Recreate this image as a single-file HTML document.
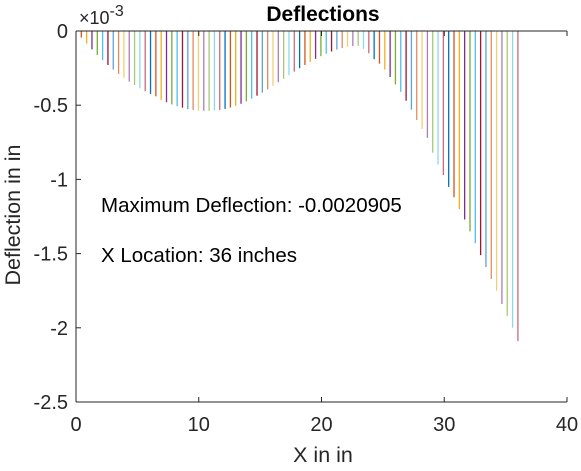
<!DOCTYPE html>
<html><head><meta charset="utf-8"><style>
body{margin:0;background:#fff;font-family:"Liberation Sans",sans-serif}
</style></head><body>
<svg width="581" height="466" xmlns="http://www.w3.org/2000/svg" font-family="Liberation Sans, sans-serif">
<rect width="581" height="466" fill="#fff"/>
<g id="stems"></g>
<g id="axes"></g>
<text x="323" y="21" text-anchor="middle" font-size="21" font-weight="bold">Deflections</text>
<text x="79" y="24" font-size="18" fill="#262626">×10<tspan dy="-8" font-size="16">-3</tspan></text>
<text x="101" y="212" font-size="20.5">Maximum Deflection: -0.0020905</text>
<text x="101" y="262" font-size="20.5">X Location: 36 inches</text>
<text x="323" y="462" text-anchor="middle" font-size="21.5" fill="#262626">X in in</text>
<text x="0" y="0" transform="translate(20,215) rotate(-90)" text-anchor="middle" font-size="21.5" fill="#262626">Deflection in in</text>
</svg>
<script>
const deflections = [0,-0.044,-0.085,-0.124,-0.161,-0.196,-0.229,-0.26,-0.289,-0.316,-0.341,-0.364,-0.386,-0.406,-0.424,-0.44,-0.465,-0.48,-0.495,-0.507,-0.517,-0.526,-0.532,-0.536,-0.538,-0.538,-0.536,-0.532,-0.525,-0.516,-0.504,-0.49,-0.474,-0.456,-0.436,-0.415,-0.393,-0.37,-0.346,-0.322,-0.298,-0.274,-0.251,-0.229,-0.208,-0.188,-0.17,-0.153,-0.138,-0.125,-0.115,-0.107,-0.102,-0.1,-0.12,-0.15,-0.19,-0.22,-0.26,-0.31,-0.36,-0.41,-0.47,-0.53,-0.6,-0.66,-0.72,-0.82,-0.9,-0.97,-1.05,-1.12,-1.2,-1.27,-1.35,-1.43,-1.51,-1.59,-1.67,-1.75,-1.84,-1.92,-2.0,-2.09];
const xMax = 36;
const xTicks = [0,10,20,30,40];
const yTicks = [0,-0.5,-1,-1.5,-2,-2.5];
const yTickLabels = ["0","-0.5","-1","-1.5","-2","-2.5"];
const colors = ['#0072BD','#D95319','#EDB120','#7E2F8E','#77AC30','#4DBEEE','#A2142F','#5aa5d6','#e38a5e','#f3cf70','#b07cb8','#a3cc70','#8fd6f3','#c96a7d'];
const L=76,R=567,T=31,B=402;
const xs=v=>L+(v-0)/(40-0)*(R-L);
const ys=v=>T+(0-v)/(2.5)*(B-T);
const NS='http://www.w3.org/2000/svg';
const stems=document.getElementById('stems');
deflections.forEach((d,i)=>{
  const x=xs(xMax*i/(deflections.length-1));
  const l=document.createElementNS(NS,'line');
  
  
  l.setAttribute('x1',x);l.setAttribute('x2',x);
  l.setAttribute('y1',ys(0));l.setAttribute('y2',ys(d));
  l.setAttribute('stroke',colors[i%colors.length]);l.setAttribute('stroke-width','1.3');
  stems.appendChild(l);
});
const ax=document.getElementById('axes');
function mk(tag,attrs,txt){const e=document.createElementNS(NS,tag);for(const k in attrs)e.setAttribute(k,attrs[k]);if(txt!==undefined)e.textContent=txt;ax.appendChild(e);return e;}
const la=mk('line',{x1:L,x2:L,y1:T,y2:B,stroke:'#262626'});


const ba=mk('line',{x1:L,x2:R,y1:B,y2:B,stroke:'#262626'});


const ta=mk('line',{x1:L,x2:R,y1:T,y2:T,stroke:'#262626'});


xTicks.forEach(t=>{
  const x=xs(t);
  mk('line',{x1:x,x2:x,y1:B,y2:B-5,stroke:'#262626'});
  mk('line',{x1:x,x2:x,y1:T,y2:T+5,stroke:'#262626'});
  const tx=mk('text',{x:x,y:B+29,'text-anchor':'middle','font-size':'20',fill:'#262626'},String(t));
  
  
});
yTicks.forEach((t,i)=>{
  const y=ys(t);
  mk('line',{x1:L,x2:L+5,y1:y,y2:y,stroke:'#262626'});
  const tx=mk('text',{x:L-8,y:y+7,'text-anchor':'end','font-size':'20',fill:'#262626'},yTickLabels[i]);
  
  
});
</script>
</body></html>
